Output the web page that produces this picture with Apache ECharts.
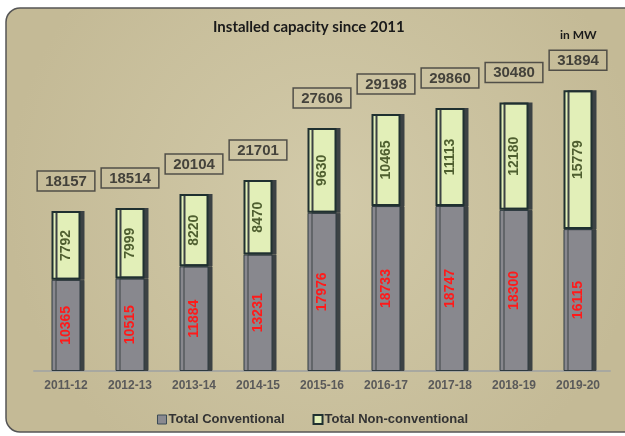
<!DOCTYPE html>
<html>
<head>
<meta charset="utf-8">
<script src="https://cdn.jsdelivr.net/npm/echarts@6/dist/echarts.min.js"></script>
<style>
  html, body { margin: 0; padding: 0; background: #ffffff; }
  #main { width: 625px; height: 436px; }
</style>
</head>
<body>
<div id="main"></div>
<script>
const years = ["2011-12", "2012-13", "2013-14", "2014-15", "2015-16", "2016-17", "2017-18", "2018-19", "2019-20"];
const conventional = [10365, 10515, 11884, 13231, 17976, 18733, 18747, 18300, 16115];
const nonConventional = [7792, 7999, 8220, 8470, 9630, 10465, 11113, 12180, 15779];
const totals = [18157, 18514, 20104, 21701, 27606, 29198, 29860, 30480, 31894];

const chart = echarts.init(document.getElementById("main"));

const option = {
  backgroundColor: "#ffffff",
  animation: false,
  graphic: [
    {
      type: "rect",
      z: -10,
      shape: { x: 6, y: 8, width: 640, height: 424, r: 14 },
      style: {
        fill: {
          type: "radial", x: 0.5, y: 0.45, r: 0.75,
          colorStops: [
            { offset: 0, color: "#d2caa9" },
            { offset: 1, color: "#c4ba96" },
          ],
        },
        stroke: "#555555",
        lineWidth: 1.5,
      },
    },
    {
      type: "text",
      left: 213, top: 20,
      style: { text: "Installed capacity since 2011", font: "bold 15px Lato", fill: "#1a1a1a" },
    },
    {
      type: "text",
      left: 560, top: 29,
      style: { text: "in MW", font: "bold 12px Lato", fill: "#1a1a1a" },
    },
  ],
  legend: {
    bottom: 5,
    left: "center",
    itemWidth: 9,
    itemHeight: 9,
    itemGap: 28,
    icon: "rect",
    textStyle: { fontFamily: "Liberation Sans", fontWeight: "bold", fontSize: 13, color: "#333", padding: [0, 0, 0, -3] },
    data: [
      { name: "Total Conventional", itemStyle: { color: "#8a8a90", borderColor: "#3a4a55", borderWidth: 1 } },
      { name: "Total Non-conventional", itemStyle: { color: "#e2efb8", borderColor: "#1f3030", borderWidth: 2 } },
    ],
  },
  grid: { left: 34, right: 15, top: 54, bottom: 65 },
  xAxis: {
    type: "category",
    data: years,
    axisTick: { show: false },
    axisLine: { lineStyle: { color: "#a8a8a0", width: 2 } },
    axisLabel: { color: "#5a5a5a", fontFamily: "Liberation Sans", fontWeight: "bold", fontSize: 12, margin: 9 },
  },
  yAxis: {
    type: "value",
    min: 0,
    max: 36000,
    show: false,
    splitLine: { show: false },
  },
  series: [
    {
      name: "Total Conventional",
      type: "bar",
      stack: "cap",
      barWidth: 29,
      data: conventional,
      itemStyle: {
        color: "#88888e",
        borderColor: "#2e3a40",
        borderWidth: 1,
        shadowColor: "#3c4244",
        shadowOffsetX: 4,
        shadowBlur: 0,
      },
      label: {
        show: true,
        position: "inside",
        rotate: 90,
        color: "#ff1a1a",
        fontFamily: "Liberation Sans",
        fontWeight: "bold",
        fontSize: 14,
      },
    },
    {
      name: "Total Non-conventional",
      type: "bar",
      stack: "cap",
      barWidth: 29,
      data: nonConventional,
      itemStyle: {
        color: "#e2efb8",
        borderColor: "#1f3030",
        borderWidth: 2,
        shadowColor: "#3c4244",
        shadowOffsetX: 4,
        shadowBlur: 0,
      },
      label: {
        show: true,
        position: "inside",
        rotate: 90,
        color: "#4f5f30",
        fontFamily: "Liberation Sans",
        fontWeight: "bold",
        fontSize: 14,
      },
    },
    {
      name: "totals",
      type: "scatter",
      symbolSize: 0,
      data: totals,
      silent: true,
      label: {
        show: true,
        position: "top",
        distance: 20,
        color: "#222",
        fontFamily: "Liberation Sans",
        fontWeight: "bold",
        fontSize: 15,
        borderColor: "#333",
        borderWidth: 1.5,
        padding: [3, 8, 2, 8],
      },
    },
  ],
};

chart.setOption(option);
</script>
</body>
</html>
